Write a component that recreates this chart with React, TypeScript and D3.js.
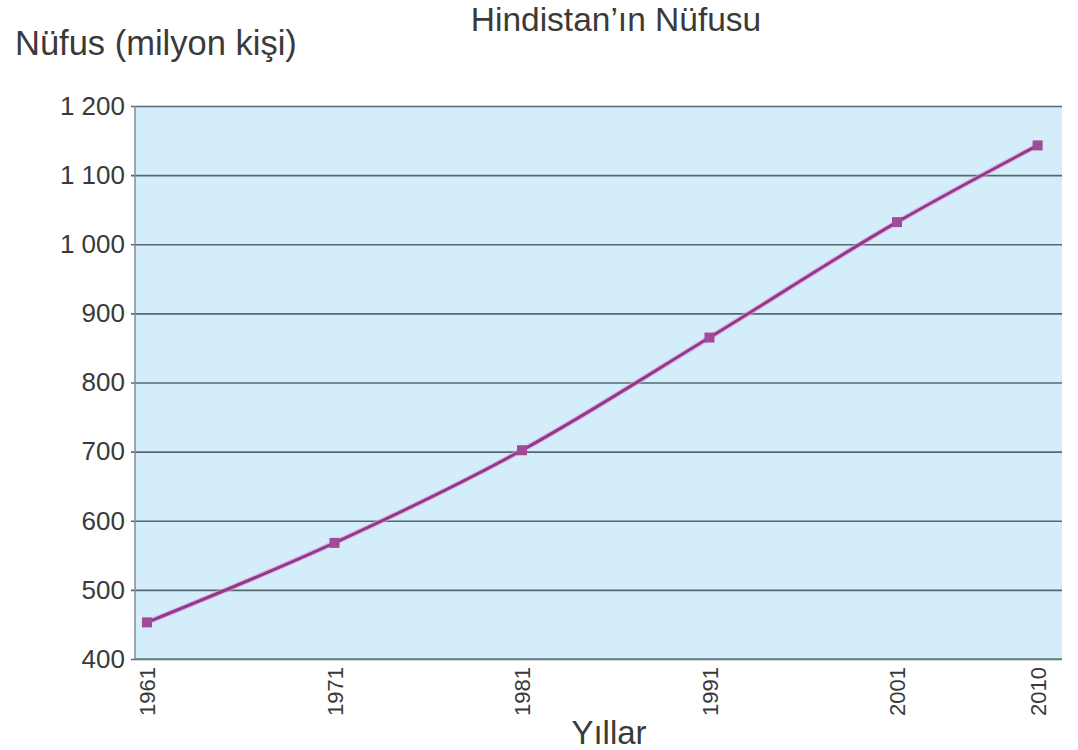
import React, { useEffect, useRef } from 'react';
import * as d3 from 'd3';

// Hindistan'ın nüfusu (milyon kişi)
const years = [1961, 1971, 1981, 1991, 2001, 2010];
const population = [453, 568, 702, 865, 1032, 1143];
const yTicks = [400, 500, 600, 700, 800, 900, 1000, 1100, 1200];

const title = 'Hindistan\u2019ın Nüfusu';
const yTitle = 'Nüfus (milyon kişi)';
const xTitle = 'Yıllar';

const fmt = (v: number) => (v >= 1000 ? `${Math.floor(v / 1000)} ${String(v % 1000).padStart(3, '0')}` : String(v));

const App: React.FC = () => {
  const ref = useRef<SVGSVGElement | null>(null);

  useEffect(() => {
    if (!ref.current) return;
    const W = 1078;
    const H = 750;
    const margin = { top: 106, right: 16, bottom: 91, left: 135 };
    const width = W - margin.left - margin.right;
    const height = H - margin.top - margin.bottom;

    const root = d3.select(ref.current);
    root.selectAll('*').remove();
    root.attr('width', W).attr('height', H);

    const font = "'Liberation Sans', Arial, sans-serif";
    const textColor = '#3a3a3a';

    // years are not evenly spaced at the end (2001 -> 2010 is shorter)
    const padL = 12;
    const step = 187.5;
    const x = d3.scaleLinear()
      .domain([1961, 2001, 2010])
      .range([padL, padL + 4 * step, padL + 4.75 * step]);

    const y = d3.scaleLinear().domain([400, 1200]).range([height, 0]);

    const g = root.append('g').attr('transform', `translate(${margin.left},${margin.top})`);

    g.append('rect')
      .attr('width', width)
      .attr('height', height)
      .attr('fill', '#d3eefa');

    // gridlines + y axis
    const yAxis = g.append('g')
      .call(d3.axisLeft(y).tickValues(yTicks).tickSize(-width - 4).tickPadding(10).tickFormat(d => fmt(+d)));
    yAxis.select('.domain').remove();
    yAxis.selectAll('.tick line')
      .attr('x1', -4)
      .attr('x2', width)
      .attr('stroke', '#55686e')
      .attr('stroke-width', 1.6);
    yAxis.selectAll('.tick text')
      .attr('font-family', font)
      .attr('font-size', 26)
      .attr('fill', textColor);

    // left and bottom frame
    g.append('line')
      .attr('x1', 0).attr('x2', 0).attr('y1', 0).attr('y2', height)
      .attr('stroke', '#7d8f95').attr('stroke-width', 1.5);
    g.append('line')
      .attr('x1', 0).attr('x2', width).attr('y1', height).attr('y2', height)
      .attr('stroke', '#6d7f85').attr('stroke-width', 1.6);

    // x axis labels
    const xAxis = g.append('g')
      .attr('transform', `translate(0,${height})`)
      .call(d3.axisBottom(x).tickValues(years).tickSize(0).tickFormat(d => String(d)));
    xAxis.select('.domain').remove();
    xAxis.selectAll('.tick text')
      .attr('font-family', font)
      .attr('font-size', 22)
      .attr('fill', textColor)
      .attr('transform', 'rotate(-90)')
      .attr('x', -8)
      .attr('y', 0)
      .attr('dy', '0.35em')
      .style('text-anchor', 'end');

    const pts = years.map((yr, i) => [x(yr), y(population[i])] as [number, number]);

    const line = d3.line().curve(d3.curveMonotoneX);
    g.append('path')
      .attr('d', line(pts))
      .attr('fill', 'none')
      .attr('stroke', '#e59ad8')
      .attr('stroke-width', 5.5)
      .attr('opacity', 0.6);
    g.append('path')
      .attr('d', line(pts))
      .attr('fill', 'none')
      .attr('stroke', '#93398a')
      .attr('stroke-width', 3);

    g.selectAll('.marker')
      .data(pts)
      .enter().append('rect')
      .attr('class', 'marker')
      .attr('x', d => d[0] - 5)
      .attr('y', d => d[1] - 5)
      .attr('width', 10)
      .attr('height', 10)
      .attr('fill', '#a04a98');

    // titles
    root.append('text')
      .attr('x', 616)
      .attr('y', 31)
      .attr('text-anchor', 'middle')
      .attr('font-family', font)
      .attr('font-size', 33.5)
      .attr('fill', textColor)
      .text(title);

    root.append('text')
      .attr('x', 15)
      .attr('y', 55)
      .attr('font-family', font)
      .attr('font-size', 34.5)
      .attr('fill', textColor)
      .text(yTitle);

    root.append('text')
      .attr('x', 609)
      .attr('y', 744)
      .attr('text-anchor', 'middle')
      .attr('font-family', font)
      .attr('font-size', 33)
      .attr('fill', textColor)
      .text(xTitle);
  }, []);

  return <svg ref={ref} style={{ position: 'absolute', left: 0, top: 0 }}></svg>;
};

export default App;
